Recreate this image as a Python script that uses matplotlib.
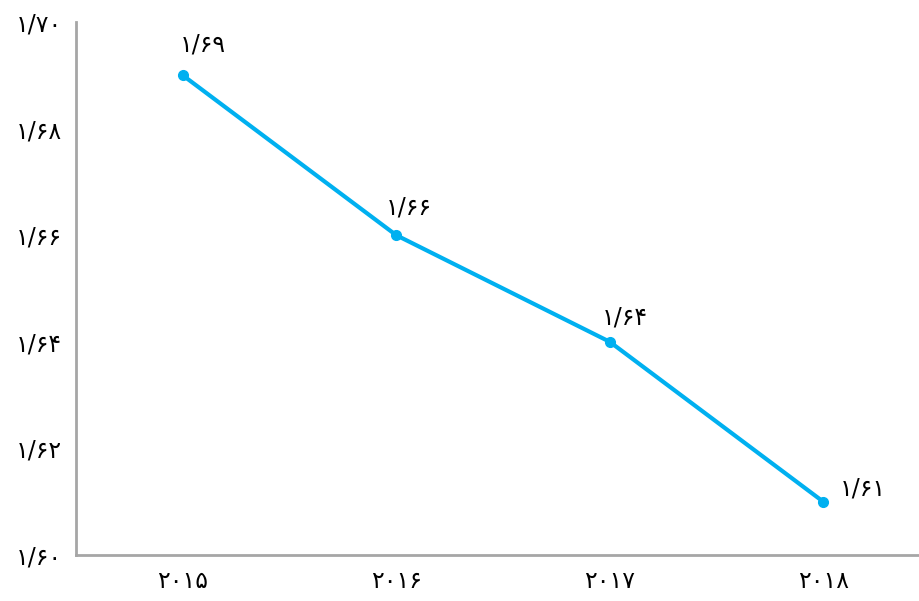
import matplotlib
matplotlib.use('Agg')
import matplotlib.pyplot as plt

plt.rcParams['font.family'] = ['DejaVu Sans']

# yearly values and their labels (Persian digits)
years = ['۲۰۱۵', '۲۰۱۶', '۲۰۱۷', '۲۰۱۸']
values = [1.69, 1.66, 1.64, 1.61]
value_labels = ['۱/۶۹', '۱/۶۶', '۱/۶۴', '۱/۶۱']
y_ticks = [1.60, 1.62, 1.64, 1.66, 1.68, 1.70]
y_tick_labels = ['۱/۶۰', '۱/۶۲', '۱/۶۴', '۱/۶۶', '۱/۶۸', '۱/۷۰']

# offsets of the value labels from their points, in pixels
label_offsets = [(20, 31), (13, 28), (15, 24), (40, 13)]

fig = plt.figure(figsize=(9.2, 6.01), dpi=100)
ax = fig.add_axes([76 / 920, 46 / 601, 854 / 920, 533 / 601])

x = list(range(len(years)))
ax.plot(x, values, color='#00B0F0', linewidth=3, marker='o', markersize=7,
        solid_capstyle='round')

for xi, v, lab, off in zip(x, values, value_labels, label_offsets):
    ax.annotate(lab, (xi, v), xytext=off, textcoords='offset pixels',
                ha='center', va='center', fontsize=17, color='black')

ax.set_xlim(-0.5, 3.5)
ax.set_ylim(1.60, 1.70)
ax.set_xticks(x)
ax.set_xticklabels(years, fontsize=17)
ax.set_yticks(y_ticks)
ax.set_yticklabels(y_tick_labels, fontsize=17)
ax.tick_params(length=0)
ax.tick_params(axis='x', pad=10)
ax.tick_params(axis='y', pad=10)

for side in ['top', 'right']:
    ax.spines[side].set_visible(False)
for side in ['left', 'bottom']:
    ax.spines[side].set_color('#A6A6A6')
    ax.spines[side].set_linewidth(2)

fig.savefig('out.png', dpi=100)
